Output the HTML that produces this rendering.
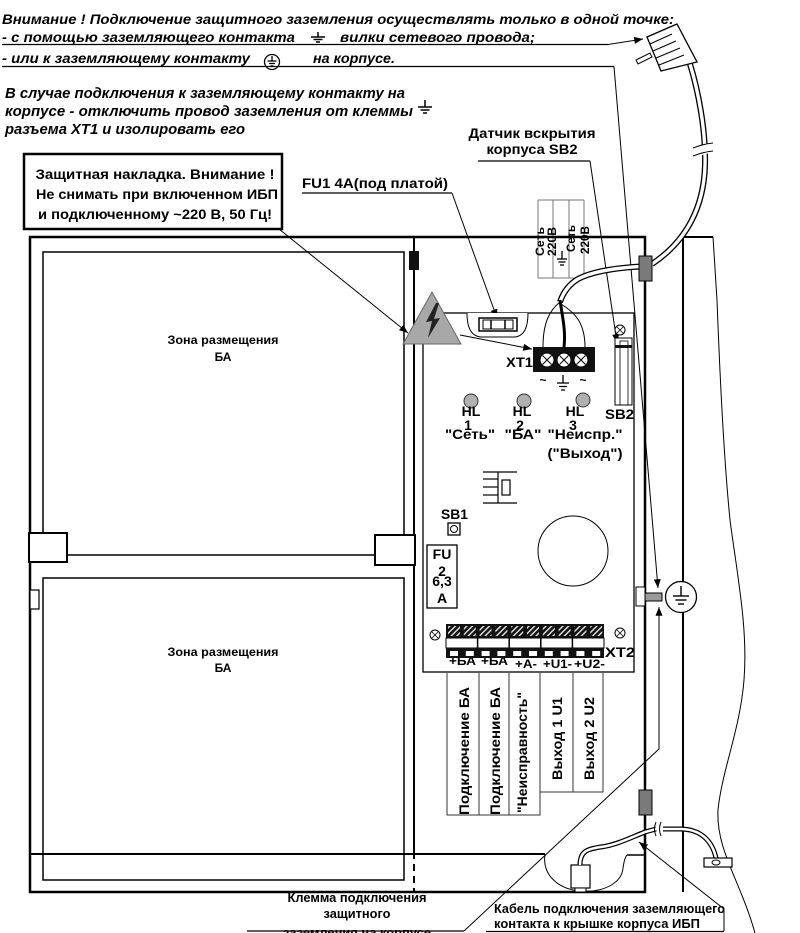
<!DOCTYPE html>
<html><head><meta charset="utf-8">
<style>
html,body{margin:0;padding:0;background:#fff;width:800px;height:933px;overflow:hidden}
svg{display:block}
text{font-family:"Liberation Sans",Arial,sans-serif;font-weight:bold;fill:#000}
.i{font-style:italic}
</style></head><body>
<svg width="800" height="933" viewBox="0 0 800 933" xmlns="http://www.w3.org/2000/svg">
<defs>
<marker id="ar" viewBox="0 0 10 8" refX="10" refY="4" markerWidth="9" markerHeight="7" orient="auto" markerUnits="userSpaceOnUse"><path d="M0,0 L10,4 L0,8 z" fill="#000"/></marker>
<pattern id="hatch" width="4" height="4" patternUnits="userSpaceOnUse" patternTransform="rotate(45)"><rect width="4" height="4" fill="#111"/><rect width="1.5" height="4" fill="#d8d8d8"/></pattern>
</defs>

<!-- ===== top notes ===== -->
<text class="i" x="2" y="24" font-size="14" textLength="672" lengthAdjust="spacingAndGlyphs">Внимание ! Подключение защитного заземления осуществлять только в одной точке:</text>
<text class="i" x="2" y="42" font-size="14" textLength="293" lengthAdjust="spacingAndGlyphs">- с помощью заземляющего контакта</text>
<g stroke="#000" stroke-width="1.5">
<line x1="318" y1="32" x2="318" y2="37"/><line x1="311" y1="37" x2="325" y2="37"/><line x1="313.5" y1="39.5" x2="322.5" y2="39.5"/><line x1="316" y1="42" x2="320" y2="42"/>
</g>
<text class="i" x="340" y="42" font-size="14" textLength="195" lengthAdjust="spacingAndGlyphs">вилки сетевого провода;</text>
<line x1="2" y1="44.5" x2="608" y2="44.5" stroke="#000" stroke-width="1.2"/>
<line x1="608" y1="44.5" x2="643" y2="39" stroke="#000" stroke-width="1" marker-end="url(#ar)"/>

<text class="i" x="2" y="63" font-size="14" textLength="248" lengthAdjust="spacingAndGlyphs">- или к заземляющему контакту</text>
<circle cx="272" cy="62" r="7.5" fill="#fff" stroke="#000" stroke-width="1.3"/>
<g stroke="#000" stroke-width="1.3">
<line x1="272" y1="56" x2="272" y2="61"/><line x1="267.5" y1="61" x2="276.5" y2="61"/><line x1="269" y1="63.5" x2="275" y2="63.5"/><line x1="270.5" y1="66" x2="273.5" y2="66"/>
</g>
<text class="i" x="313" y="63" font-size="14" textLength="82" lengthAdjust="spacingAndGlyphs">на корпусе.</text>
<line x1="2" y1="66.5" x2="614" y2="66.5" stroke="#000" stroke-width="1.2"/>
<line x1="614" y1="66.5" x2="658" y2="588" stroke="#000" stroke-width="1" marker-end="url(#ar)"/>

<text class="i" x="5" y="98" font-size="15" textLength="400" lengthAdjust="spacingAndGlyphs">В случае подключения к заземляющему контакту на</text>
<text class="i" x="5" y="116" font-size="15" textLength="408" lengthAdjust="spacingAndGlyphs">корпусе - отключить провод заземления от клеммы</text>
<g stroke="#000" stroke-width="1.5">
<line x1="425" y1="100" x2="425" y2="107"/><line x1="418" y1="107" x2="432" y2="107"/><line x1="420.5" y1="110" x2="429.5" y2="110"/><line x1="423" y1="113" x2="427" y2="113"/>
</g>
<text class="i" x="5" y="134" font-size="15" textLength="240" lengthAdjust="spacingAndGlyphs">разъема XT1 и изолировать его</text>

<!-- protective cover box -->
<rect x="24" y="154" width="258" height="75" fill="#fff" stroke="#000" stroke-width="2.5"/>
<text x="155" y="179" font-size="14" text-anchor="middle" textLength="239" lengthAdjust="spacingAndGlyphs">Защитная накладка. Внимание !</text>
<text x="157" y="199" font-size="14" text-anchor="middle" textLength="242" lengthAdjust="spacingAndGlyphs">Не снимать при включенном ИБП</text>
<text x="155" y="219" font-size="14" text-anchor="middle" textLength="234" lengthAdjust="spacingAndGlyphs">и подключенному  ~220 В, 50 Гц!</text>
<line x1="279" y1="229" x2="408" y2="333" stroke="#000" stroke-width="1" marker-end="url(#ar)"/>

<!-- FU1 label -->
<text x="302" y="188" font-size="14" textLength="146" lengthAdjust="spacingAndGlyphs">FU1 4А(под платой)</text>
<line x1="302" y1="193" x2="452" y2="193" stroke="#000" stroke-width="1.2"/>
<line x1="452" y1="193" x2="497" y2="318" stroke="#000" stroke-width="1" marker-end="url(#ar)"/>

<!-- SB2 label -->
<text x="532" y="138" font-size="14" text-anchor="middle" textLength="127" lengthAdjust="spacingAndGlyphs">Датчик вскрытия</text>
<text x="532" y="154" font-size="14" text-anchor="middle" textLength="91" lengthAdjust="spacingAndGlyphs">корпуса SB2</text>
<line x1="478" y1="161" x2="590" y2="161" stroke="#000" stroke-width="1.2"/>
<line x1="590" y1="161" x2="617" y2="343" stroke="#000" stroke-width="1" marker-end="url(#ar)"/>

<!-- Сеть 220В strip -->
<g stroke="#777" stroke-width="1" fill="none">
<line x1="538" y1="200" x2="584" y2="200"/><line x1="538" y1="278" x2="584" y2="278"/>
<line x1="538" y1="200" x2="538" y2="278"/><line x1="553" y1="200" x2="553" y2="278"/>
<line x1="569" y1="200" x2="569" y2="278"/><line x1="584" y1="200" x2="584" y2="278"/>
</g>
<text transform="translate(544,256) rotate(-90)" font-size="12" textLength="29" lengthAdjust="spacingAndGlyphs">Сеть</text>
<text transform="translate(556,256) rotate(-90)" font-size="12" textLength="29" lengthAdjust="spacingAndGlyphs">220В</text>
<text transform="translate(575,252) rotate(-90)" font-size="12" textLength="27" lengthAdjust="spacingAndGlyphs">Сеть</text>
<text transform="translate(589,254) rotate(-90)" font-size="12" textLength="28" lengthAdjust="spacingAndGlyphs">220В</text>
<g stroke="#000" stroke-width="1.3">
<line x1="562" y1="251" x2="562" y2="259"/><line x1="557" y1="259" x2="567" y2="259"/><line x1="558.5" y1="262" x2="565.5" y2="262"/><line x1="560" y1="265" x2="564" y2="265"/>
</g>

<!-- ===== enclosure ===== -->
<g fill="none" stroke="#000">
<path d="M30,237 H645 V892 H30 Z" stroke-width="2.5"/>
<line x1="414" y1="237" x2="414" y2="535" stroke-width="2"/>
<line x1="414" y1="565" x2="414" y2="852" stroke-width="2"/>
<line x1="414" y1="852" x2="414" y2="892" stroke-width="2" stroke-dasharray="7,5"/>
<path d="M43,533 V252 H404 V535" stroke-width="1.5"/>
<line x1="67" y1="555" x2="375" y2="555" stroke-width="1.5"/>
<rect x="43" y="578" width="361" height="302" stroke-width="1.5"/>
<line x1="30" y1="854" x2="545" y2="854" stroke-width="2"/>
<line x1="627" y1="855" x2="645" y2="855" stroke-width="1.5"/>
<path d="M545,854 C542,875 558,889 580,891 C605,893 622,882 623,868 C624,861 625,857 627,855" stroke-width="1"/>
<path d="M683,892 V237 H713" stroke-width="2"/>
<path d="M713,237 L717,300 C720,380 724,460 730,520 C738,580 748,630 744,680 C740,730 722,770 718,810 C716,850 740,880 755,933" stroke-width="1"/>
</g>
<rect x="29" y="533" width="38" height="29" fill="#fff" stroke="#000" stroke-width="2"/>
<rect x="375" y="535" width="40" height="30" fill="#fff" stroke="#000" stroke-width="2"/>
<rect x="30" y="590" width="9" height="19" fill="#fff" stroke="#000" stroke-width="1.2"/>
<rect x="409" y="251" width="10" height="19" fill="#111"/>

<text x="223" y="344" font-size="12" text-anchor="middle" textLength="111" lengthAdjust="spacingAndGlyphs">Зона размещения</text>
<text x="223" y="361" font-size="12" text-anchor="middle">БА</text>
<text x="223" y="656" font-size="12" text-anchor="middle" textLength="111" lengthAdjust="spacingAndGlyphs">Зона размещения</text>
<text x="223" y="672" font-size="12" text-anchor="middle">БА</text>

<!-- ===== board ===== -->
<rect x="423" y="313" width="211" height="359" fill="none" stroke="#000" stroke-width="1.3"/>

<!-- warning triangle -->
<polygon points="432,292 403,344 461,344" fill="#a8a8a8" stroke="#666" stroke-width="1"/>
<polygon points="436,303 426,322 432,321 428,338 440,318 434,319 439,303" fill="#222"/>
<line x1="460" y1="335" x2="532" y2="349" stroke="#000" stroke-width="1" marker-end="url(#ar)"/>

<!-- fuse holder FU1 -->
<path d="M467,313 C467,326 470,336 481,337 L515,337 C525,336 528,326 528,313" fill="#fff" stroke="#000" stroke-width="1"/>
<rect x="479" y="318" width="38" height="13" fill="#fff" stroke="#000" stroke-width="1.5"/>
<rect x="483" y="320" width="30" height="9" fill="#fff" stroke="#000" stroke-width="1"/>
<line x1="491" y1="320" x2="491" y2="329" stroke="#000" stroke-width="1.5"/>
<line x1="505" y1="320" x2="505" y2="329" stroke="#000" stroke-width="1.5"/>

<!-- power cable outside -->
<path d="M690,64 C698,90 706,130 705,165 C704,205 688,240 652,264" fill="none" stroke="#000" stroke-width="6"/>
<path d="M690,64 C698,90 706,130 705,165 C704,205 688,240 652,264" fill="none" stroke="#fff" stroke-width="3.4"/>
<polygon points="694,147 714,142 714,152 694,157" fill="#fff"/>
<path d="M693,148 Q703,144 713,143" fill="none" stroke="#000" stroke-width="1"/>
<path d="M693,156 Q703,152 713,151" fill="none" stroke="#000" stroke-width="1"/>
<!-- plug -->
<polygon points="647,37 677,24 697,62 661,71" fill="#fff" stroke="#000" stroke-width="1.3"/>
<g stroke="#000" stroke-width="1">
<line x1="650" y1="44" x2="672" y2="34"/><line x1="653" y1="51" x2="676" y2="41"/><line x1="656" y1="58" x2="680" y2="48"/><line x1="659" y1="65" x2="684" y2="55"/>
</g>
<polygon points="636,60 650,53 652,57 638,64" fill="#fff" stroke="#000" stroke-width="1"/>

<!-- cable inside -->
<path d="M650,266 C625,267 595,270 578,279 C568,285 563,293 560,302" fill="none" stroke="#000" stroke-width="6"/>
<path d="M650,266 C625,267 595,270 578,279 C568,285 563,293 560,302" fill="none" stroke="#fff" stroke-width="3.4"/>
<path d="M560,302 C550,310 543,322 543,347" fill="none" stroke="#000" stroke-width="1"/>
<path d="M560,300 C562,315 566,330 564,347" fill="none" stroke="#000" stroke-width="3"/>
<path d="M561,304 C574,312 585,322 585,347" fill="none" stroke="#000" stroke-width="1"/>

<!-- grommets -->
<rect x="639" y="256" width="13" height="25" fill="#7a7a7a" stroke="#000" stroke-width="1"/>
<rect x="639" y="790" width="13" height="25" fill="#7a7a7a" stroke="#000" stroke-width="1"/>

<!-- XT1 -->
<rect x="533" y="347" width="62" height="25" fill="#111"/>
<g fill="#fff" stroke="#000" stroke-width="1">
<circle cx="547" cy="360" r="7"/><circle cx="564" cy="360" r="7"/><circle cx="581" cy="360" r="7"/>
</g>
<g stroke="#000" stroke-width="1">
<line x1="542.5" y1="355.5" x2="551.5" y2="364.5"/><line x1="551.5" y1="355.5" x2="542.5" y2="364.5"/>
<line x1="559.5" y1="355.5" x2="568.5" y2="364.5"/><line x1="568.5" y1="355.5" x2="559.5" y2="364.5"/>
<line x1="576.5" y1="355.5" x2="585.5" y2="364.5"/><line x1="585.5" y1="355.5" x2="576.5" y2="364.5"/>
</g>
<text x="506" y="367" font-size="14" textLength="27" lengthAdjust="spacingAndGlyphs">XT1</text>
<text x="543" y="384" font-size="12" text-anchor="middle">~</text>
<text x="583" y="384" font-size="12" text-anchor="middle">~</text>
<g stroke="#000" stroke-width="1.3">
<line x1="563" y1="375" x2="563" y2="383"/><line x1="557" y1="383" x2="569" y2="383"/><line x1="559" y1="386.5" x2="567" y2="386.5"/><line x1="561" y1="390" x2="565" y2="390"/>
</g>

<!-- SB2 -->
<circle cx="620" cy="330" r="5" fill="#fff" stroke="#000" stroke-width="1"/>
<path d="M617,327 L623,333 M623,327 L617,333" stroke="#000" stroke-width="0.8"/>
<rect x="615" y="338" width="17" height="67" fill="#fff" stroke="#000" stroke-width="1"/>
<rect x="620" y="341" width="8" height="64" fill="none" stroke="#000" stroke-width="0.8"/>
<rect x="615" y="345" width="17" height="3" fill="#111"/>
<text x="605" y="419" font-size="14" textLength="29" lengthAdjust="spacingAndGlyphs">SB2</text>

<!-- LEDs -->
<g fill="#b0b0b0" stroke="#333" stroke-width="1">
<circle cx="471" cy="401" r="7"/><circle cx="524" cy="401" r="7"/><circle cx="583" cy="400" r="7"/>
</g>
<g font-size="14" text-anchor="middle">
<text x="471" y="416">HL</text><text x="522" y="416">HL</text><text x="575" y="416">HL</text>
<text x="468" y="430">1</text><text x="520" y="430">2</text><text x="573" y="430">3</text>
<text x="470" y="439" textLength="50" lengthAdjust="spacingAndGlyphs">"Сеть"</text>
<text x="523" y="439" textLength="37" lengthAdjust="spacingAndGlyphs">"БА"</text>
<text x="585" y="439" textLength="75" lengthAdjust="spacingAndGlyphs">"Неиспр."</text>
<text x="585" y="458" textLength="75" lengthAdjust="spacingAndGlyphs">("Выход")</text>
</g>

<!-- heatsink -->
<g stroke="#000" stroke-width="1.2" fill="none">
<line x1="483" y1="472" x2="517" y2="472"/>
<line x1="483" y1="479" x2="498" y2="479"/>
<line x1="483" y1="487" x2="498" y2="487"/>
<line x1="483" y1="495" x2="498" y2="495"/>
<line x1="483" y1="503" x2="517" y2="503"/>
<line x1="498" y1="472" x2="498" y2="503"/>
<rect x="502" y="480" width="8" height="15"/>
</g>

<!-- SB1 -->
<text x="441" y="519" font-size="14" textLength="27" lengthAdjust="spacingAndGlyphs">SB1</text>
<rect x="448" y="523" width="12" height="12" fill="#fff" stroke="#000" stroke-width="1.3"/>
<circle cx="454" cy="529" r="3.5" fill="none" stroke="#000" stroke-width="1"/>

<!-- FU2 -->
<rect x="427" y="545" width="30" height="63" fill="#fff" stroke="#000" stroke-width="1.3"/>
<g font-size="14" text-anchor="middle">
<text x="442" y="559">FU</text><text x="442" y="576">2</text><text x="442" y="586">6,3</text><text x="442" y="603">A</text>
</g>

<!-- big circle -->
<circle cx="573" cy="551" r="35" fill="none" stroke="#000" stroke-width="1"/>

<!-- screws near XT2 -->
<circle cx="435" cy="635" r="5" fill="#fff" stroke="#000" stroke-width="1"/>
<path d="M432,632 L438,638 M438,632 L432,638" stroke="#000" stroke-width="0.8"/>
<circle cx="620" cy="633" r="5" fill="#fff" stroke="#000" stroke-width="1"/>
<path d="M617,630 L623,636 M623,630 L617,636" stroke="#000" stroke-width="0.8"/>

<!-- XT2 labels (behind block) -->
<g font-size="12">
<text x="449" y="665" textLength="27" lengthAdjust="spacingAndGlyphs">+БА</text>
<text x="481" y="665" textLength="27" lengthAdjust="spacingAndGlyphs">+БА</text>
<text x="515" y="668" textLength="22" lengthAdjust="spacingAndGlyphs">+A-</text>
<text x="543" y="668" textLength="29" lengthAdjust="spacingAndGlyphs">+U1-</text>
<text x="574" y="668" textLength="31" lengthAdjust="spacingAndGlyphs">+U2-</text>
</g>

<!-- XT2 block -->
<rect x="446" y="624" width="158" height="14" fill="#111"/>
<g fill="url(#hatch)">
<rect x="448" y="626" width="12" height="10"/><rect x="463.8" y="626" width="12" height="10"/>
<rect x="479.6" y="626" width="12" height="10"/><rect x="495.4" y="626" width="12" height="10"/>
<rect x="511.2" y="626" width="12" height="10"/><rect x="527" y="626" width="12" height="10"/>
<rect x="542.8" y="626" width="12" height="10"/><rect x="558.6" y="626" width="12" height="10"/>
<rect x="574.4" y="626" width="12" height="10"/><rect x="590.2" y="626" width="12" height="10"/>
</g>
<rect x="446" y="638" width="158" height="10" fill="#fff" stroke="#000" stroke-width="1"/>
<g stroke="#000" stroke-width="1.5">
<line x1="477.6" y1="638" x2="477.6" y2="648"/><line x1="509.2" y1="638" x2="509.2" y2="648"/>
<line x1="540.8" y1="638" x2="540.8" y2="648"/><line x1="572.4" y1="638" x2="572.4" y2="648"/>
</g>
<rect x="446" y="648" width="158" height="10" fill="#111"/>
<g fill="#fff">
<rect x="450" y="651" width="8" height="5"/><rect x="465.8" y="651" width="8" height="5"/>
<rect x="481.6" y="651" width="8" height="5"/><rect x="497.4" y="651" width="8" height="5"/>
<rect x="513.2" y="651" width="8" height="5"/><rect x="529" y="651" width="8" height="5"/>
<rect x="544.8" y="651" width="8" height="5"/><rect x="560.6" y="651" width="8" height="5"/>
<rect x="576.4" y="651" width="8" height="5"/><rect x="592.2" y="651" width="8" height="5"/>
</g>
<text x="605" y="657" font-size="14" textLength="30" lengthAdjust="spacingAndGlyphs">XT2</text>

<!-- output label columns -->
<g stroke="#333" stroke-width="1" fill="none">
<path d="M447,673 V815 H540 V673"/>
<line x1="479" y1="673" x2="479" y2="815"/>
<line x1="509" y1="673" x2="509" y2="815"/>
<path d="M540,792 H603 V673"/>
<line x1="573" y1="673" x2="573" y2="792"/>
</g>
<text transform="translate(469,815) rotate(-90)" font-size="14" textLength="128" lengthAdjust="spacingAndGlyphs">Подключение БА</text>
<text transform="translate(500,815) rotate(-90)" font-size="14" textLength="128" lengthAdjust="spacingAndGlyphs">Подключение БА</text>
<text transform="translate(527,813) rotate(-90)" font-size="14" textLength="121" lengthAdjust="spacingAndGlyphs">"Неисправность"</text>
<text transform="translate(562,780) rotate(-90)" font-size="14" textLength="83" lengthAdjust="spacingAndGlyphs">Выход 1 U1</text>
<text transform="translate(594,780) rotate(-90)" font-size="14" textLength="83" lengthAdjust="spacingAndGlyphs">Выход 2 U2</text>

<!-- ground terminal on right wall -->
<rect x="636" y="587" width="9" height="19" fill="#fff" stroke="#000" stroke-width="1"/>
<rect x="645" y="593" width="17" height="8" fill="#9a9a9a" stroke="#000" stroke-width="1"/>
<circle cx="681" cy="597" r="15.5" fill="#fff" stroke="#000" stroke-width="1.3"/>
<g stroke="#000" stroke-width="1.4">
<line x1="681" y1="586" x2="681" y2="596"/><line x1="673" y1="596" x2="689" y2="596"/><line x1="675.5" y1="600" x2="686.5" y2="600"/><line x1="678" y1="604" x2="684" y2="604"/>
</g>

<!-- bottom-right earth cable -->
<rect x="571" y="865" width="19" height="23" fill="#fff" stroke="#000" stroke-width="1.2"/>
<rect x="575" y="888" width="11" height="4" fill="#fff" stroke="#000" stroke-width="1"/>
<path d="M580,865 C580,852 586,849 601,847 C616,845 630,838 645,832 L656,829" fill="none" stroke="#000" stroke-width="5"/>
<path d="M580,865 C580,852 586,849 601,847 C616,845 630,838 645,832 L656,829" fill="none" stroke="#fff" stroke-width="2.5"/>
<path d="M663,829 L680,829 C700,829 712,840 716,858" fill="none" stroke="#000" stroke-width="5"/>
<path d="M663,829 L680,829 C700,829 712,840 716,858" fill="none" stroke="#fff" stroke-width="2.5"/>
<path d="M656,822 Q653,829 656,836 M661,822 Q658,829 661,836" fill="none" stroke="#000" stroke-width="1"/>
<rect x="704" y="858" width="28" height="9" fill="#fff" stroke="#000" stroke-width="1.2"/>
<ellipse cx="716" cy="862.5" rx="4" ry="2.5" fill="#fff" stroke="#000" stroke-width="1"/>

<!-- Клемма label + leader -->
<g font-size="13" text-anchor="middle">
<text x="357" y="902" textLength="139" lengthAdjust="spacingAndGlyphs">Клемма подключения</text>
<text x="357" y="918" textLength="67" lengthAdjust="spacingAndGlyphs">защитного</text>
<text x="357" y="937" textLength="148" lengthAdjust="spacingAndGlyphs">заземления на корпусе</text>
</g>
<line x1="247" y1="931" x2="464" y2="931" stroke="#000" stroke-width="1.2"/>
<polyline points="464,931 659,749 659,607" fill="none" stroke="#000" stroke-width="1" marker-end="url(#ar)"/>

<!-- Кабель label + leader -->
<text x="494" y="913" font-size="13" textLength="231" lengthAdjust="spacingAndGlyphs">Кабель подключения заземляющего</text>
<text x="494" y="928" font-size="13" textLength="206" lengthAdjust="spacingAndGlyphs">контакта к крышке корпуса ИБП</text>
<line x1="486" y1="931.5" x2="724" y2="931.5" stroke="#000" stroke-width="1.2"/>
<polyline points="724,931 724,909 639,842" fill="none" stroke="#000" stroke-width="1" marker-end="url(#ar)"/>
</svg>
</body></html>
